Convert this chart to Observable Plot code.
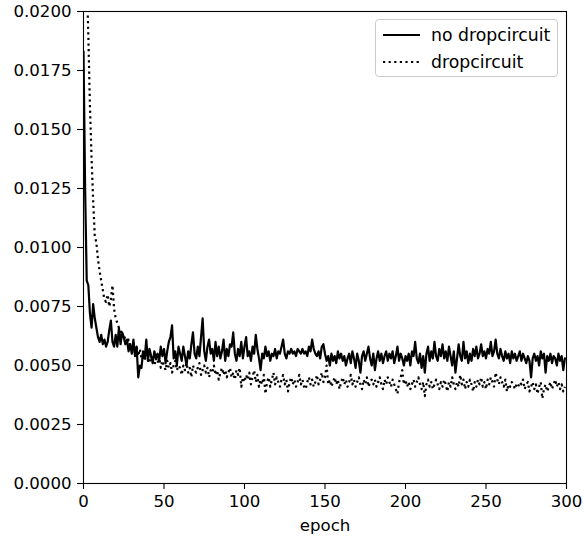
<!DOCTYPE html>
<html>
<head>
<meta charset="utf-8">
<script src="https://cdn.jsdelivr.net/npm/d3@7"></script>
<script src="https://cdn.jsdelivr.net/npm/@observablehq/plot@0.6"></script>
<style>
  body { margin: 0; background: #fff; }
  #wrap { position: relative; width: 584px; height: 537px; font-family: "DejaVu Sans", sans-serif; }
  #legend { position: absolute; left: 375px; top: 19px; width: 183px; height: 58px; box-sizing: border-box;
    border: 1px solid #cccccc; border-radius: 4px; background: rgba(255,255,255,0.8); font-size: 17.3px; color: #000; }
  .row { position: absolute; left: 0; height: 22px; display: flex; align-items: center; }
  .row svg { margin-left: 7px; }
  .row span { margin-left: 11px; white-space: nowrap; }
</style>
</head>
<body>
<div id="wrap">
  <div id="legend">
    <div class="row" style="top:4px"><svg width="37" height="6"><line x1="0" y1="3" x2="37" y2="3" stroke="black" stroke-width="2.2"/></svg><span>no dropcircuit</span></div>
    <div class="row" style="top:31px"><svg width="37" height="6"><line x1="0" y1="3" x2="37" y2="3" stroke="black" stroke-width="2.2" stroke-dasharray="2.2,3.4"/></svg><span>dropcircuit</span></div>
  </div>
</div>
<script>
const seriesNames = ["no dropcircuit", "dropcircuit"];
const xTicks = [0, 50, 100, 150, 200, 250, 300];
const yTicks = [0, 0.0025, 0.005, 0.0075, 0.01, 0.0125, 0.015, 0.0175, 0.02];

const noDrop = [
0.0183,0.0125,0.0086,0.0084,0.0072,0.0066,0.0076,0.0070,0.0066,0.0062,
0.0060,0.0063,0.0059,0.0061,0.0058,0.0060,0.0065,0.0069,0.0060,0.0058,
0.0063,0.0058,0.0066,0.0059,0.0064,0.0062,0.0059,0.0061,0.0056,0.0059,
0.0055,0.0061,0.0054,0.0058,0.0045,0.0050,0.0049,0.0056,0.0053,0.0061,
0.0052,0.0057,0.0054,0.0051,0.0056,0.0053,0.0055,0.0052,0.0058,0.0054,
0.0057,0.0051,0.0056,0.0060,0.0062,0.0067,0.0053,0.0056,0.0050,0.0058,
0.0055,0.0052,0.0058,0.0054,0.0050,0.0056,0.0053,0.0059,0.0064,0.0055,
0.0053,0.0058,0.0054,0.0062,0.0070,0.0056,0.0052,0.0058,0.0061,0.0055,
0.0057,0.0052,0.0060,0.0054,0.0058,0.0053,0.0056,0.0061,0.0052,0.0057,
0.0054,0.0059,0.0058,0.0064,0.0055,0.0052,0.0057,0.0054,0.0060,0.0053,
0.0058,0.0062,0.0054,0.0056,0.0052,0.0058,0.0055,0.0063,0.0057,0.0053,
0.0048,0.0055,0.0053,0.0058,0.0054,0.0056,0.0052,0.0055,0.0054,0.0057,
0.0053,0.0056,0.0055,0.0058,0.0061,0.0055,0.0053,0.0056,0.0055,0.0057,
0.0055,0.0056,0.0054,0.0057,0.0056,0.0055,0.0057,0.0055,0.0056,0.0054,
0.0058,0.0056,0.0061,0.0057,0.0055,0.0054,0.0056,0.0053,0.0058,0.0059,
0.0055,0.0052,0.0054,0.0050,0.0055,0.0052,0.0054,0.0051,0.0056,0.0053,
0.0055,0.0052,0.0054,0.0050,0.0053,0.0055,0.0051,0.0056,0.0053,0.0049,
0.0055,0.0052,0.0047,0.0054,0.0056,0.0052,0.0055,0.0058,0.0053,0.0050,
0.0055,0.0048,0.0053,0.0056,0.0052,0.0055,0.0051,0.0054,0.0056,0.0052,
0.0055,0.0053,0.0056,0.0051,0.0054,0.0058,0.0052,0.0055,0.0053,0.0050,
0.0054,0.0052,0.0055,0.0050,0.0056,0.0054,0.0060,0.0053,0.0051,0.0055,
0.0049,0.0054,0.0047,0.0055,0.0058,0.0052,0.0056,0.0053,0.0060,0.0054,
0.0052,0.0057,0.0054,0.0059,0.0053,0.0056,0.0052,0.0058,0.0054,0.0050,
0.0056,0.0047,0.0053,0.0059,0.0054,0.0052,0.0060,0.0053,0.0056,0.0051,
0.0055,0.0052,0.0057,0.0054,0.0058,0.0053,0.0055,0.0059,0.0054,0.0056,
0.0053,0.0057,0.0055,0.0060,0.0054,0.0056,0.0061,0.0055,0.0053,0.0057,
0.0054,0.0052,0.0056,0.0053,0.0055,0.0051,0.0056,0.0053,0.0055,0.0052,
0.0054,0.0056,0.0052,0.0055,0.0053,0.0051,0.0054,0.0052,0.0045,0.0053,
0.0055,0.0052,0.0054,0.0050,0.0056,0.0053,0.0055,0.0047,0.0054,0.0052,
0.0055,0.0051,0.0054,0.0053,0.0050,0.0055,0.0052,0.0054,0.0048,0.0053
];

const drop = [
0.0400,0.0280,0.0215,0.0190,0.0160,0.0138,0.0120,0.0105,0.0102,0.0095,
0.0090,0.0086,0.0082,0.0078,0.0077,0.0080,0.0075,0.0078,0.0084,0.0074,
0.0070,0.0068,0.0066,0.0065,0.0062,0.0063,0.0061,0.0059,0.0061,0.0058,
0.0057,0.0060,0.0055,0.0058,0.0054,0.0057,0.0053,0.0055,0.0052,0.0056,
0.0053,0.0051,0.0054,0.0052,0.0050,0.0053,0.0051,0.0054,0.0049,0.0052,
0.0050,0.0048,0.0052,0.0049,0.0051,0.0047,0.0050,0.0052,0.0048,0.0050,
0.0049,0.0046,0.0050,0.0048,0.0051,0.0047,0.0049,0.0045,0.0050,0.0048,
0.0047,0.0049,0.0051,0.0046,0.0048,0.0050,0.0047,0.0049,0.0045,0.0048,
0.0047,0.0050,0.0046,0.0048,0.0044,0.0047,0.0049,0.0046,0.0048,0.0045,
0.0047,0.0049,0.0045,0.0047,0.0044,0.0048,0.0046,0.0049,0.0041,0.0045,
0.0043,0.0046,0.0044,0.0047,0.0042,0.0045,0.0048,0.0043,0.0046,0.0041,
0.0044,0.0042,0.0046,0.0038,0.0043,0.0045,0.0041,0.0044,0.0047,0.0042,
0.0045,0.0043,0.0041,0.0044,0.0046,0.0042,0.0044,0.0039,0.0043,0.0045,
0.0042,0.0044,0.0041,0.0043,0.0046,0.0042,0.0044,0.0041,0.0040,0.0043,
0.0045,0.0042,0.0044,0.0041,0.0043,0.0046,0.0042,0.0044,0.0047,0.0043,
0.0045,0.0050,0.0042,0.0044,0.0041,0.0043,0.0045,0.0042,0.0044,0.0040,
0.0043,0.0045,0.0042,0.0044,0.0041,0.0043,0.0046,0.0042,0.0044,0.0041,
0.0043,0.0045,0.0042,0.0040,0.0044,0.0042,0.0045,0.0041,0.0043,0.0044,
0.0042,0.0044,0.0041,0.0043,0.0045,0.0042,0.0040,0.0044,0.0042,0.0045,
0.0043,0.0041,0.0044,0.0042,0.0040,0.0038,0.0043,0.0045,0.0048,0.0042,
0.0044,0.0041,0.0043,0.0040,0.0042,0.0044,0.0041,0.0043,0.0045,0.0042,
0.0040,0.0043,0.0037,0.0042,0.0044,0.0041,0.0043,0.0040,0.0042,0.0044,
0.0042,0.0040,0.0043,0.0041,0.0044,0.0042,0.0039,0.0043,0.0041,0.0045,
0.0042,0.0040,0.0043,0.0041,0.0046,0.0042,0.0044,0.0040,0.0043,0.0041,
0.0044,0.0042,0.0039,0.0043,0.0041,0.0044,0.0042,0.0045,0.0041,0.0043,
0.0040,0.0044,0.0042,0.0045,0.0043,0.0041,0.0047,0.0044,0.0042,0.0045,
0.0043,0.0041,0.0044,0.0039,0.0042,0.0041,0.0043,0.0042,0.0040,0.0042,
0.0041,0.0043,0.0042,0.0044,0.0040,0.0042,0.0043,0.0039,0.0041,0.0043,
0.0040,0.0042,0.0038,0.0041,0.0043,0.0036,0.0040,0.0042,0.0039,0.0041,
0.0043,0.0040,0.0042,0.0044,0.0041,0.0043,0.0040,0.0042,0.0039,0.0041
];

const rowsNo = noDrop.map((v, i) => ({epoch: i, loss: v, series: seriesNames[0]}));
const rowsDrop = drop.map((v, i) => ({epoch: i, loss: v, series: seriesNames[1]}));

const chart = Plot.plot({
  width: 584,
  height: 537,
  marginLeft: 83,
  marginRight: 18,
  marginTop: 11,
  marginBottom: 54,
  style: {fontFamily: "DejaVu Sans, sans-serif", fontSize: "16.6px", color: "black", background: "white"},
  x: {domain: [0, 300]},
  y: {domain: [0, 0.02]},
  marks: [
    Plot.line(rowsDrop, {x: "epoch", y: "loss", stroke: "black", strokeWidth: 2.2, strokeDasharray: "2.2,3.4", strokeLinecap: "butt", clip: true}),
    Plot.line(rowsNo, {x: "epoch", y: "loss", stroke: "black", strokeWidth: 2.2, strokeLinejoin: "round", clip: true}),
    Plot.frame({stroke: "black", strokeWidth: 1.1}),
    Plot.axisX({ticks: xTicks, tickSize: 6, tickPadding: 6, tickFormat: d3.format("d"), label: "epoch", labelAnchor: "center", labelOffset: 47, labelArrow: "none", strokeWidth: 1.1}),
    Plot.axisY({ticks: yTicks, tickSize: 6, tickPadding: 6, tickFormat: d3.format(".4f"), label: null, strokeWidth: 1.1})
  ]
});
document.getElementById("wrap").prepend(chart);
</script>
</body>
</html>
